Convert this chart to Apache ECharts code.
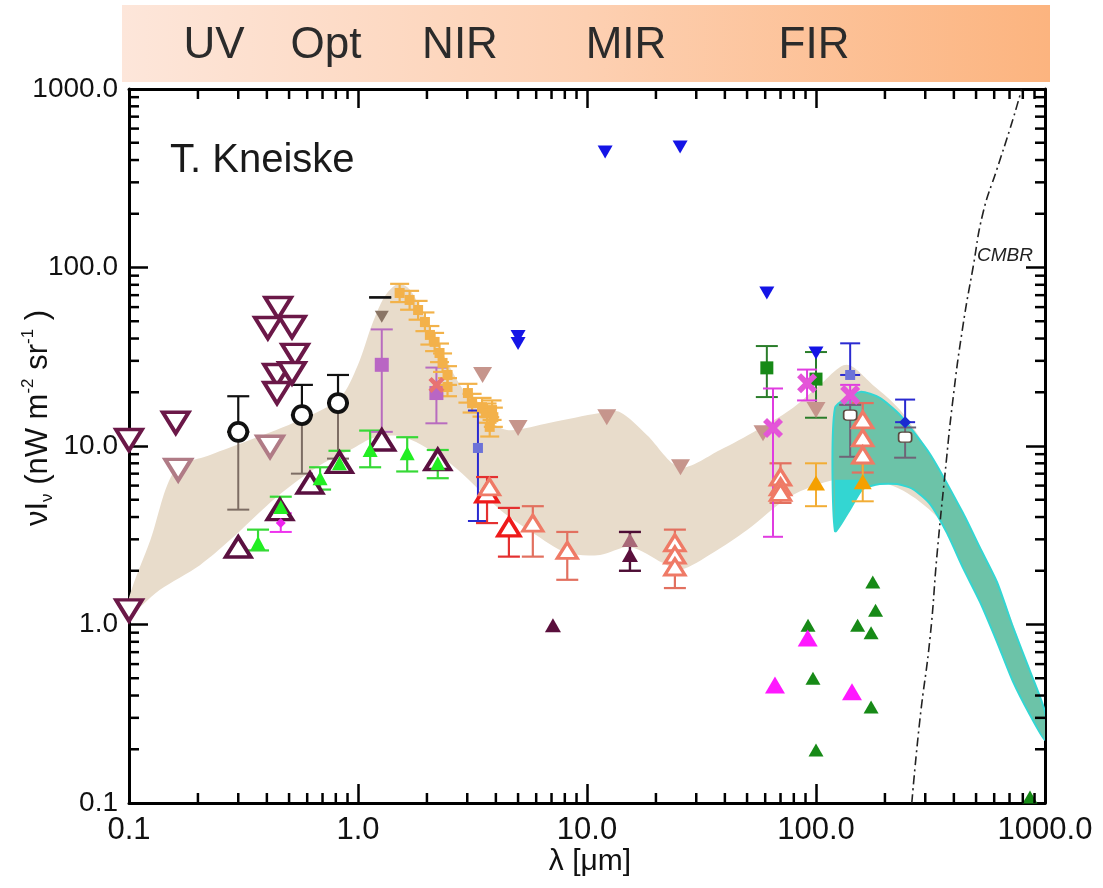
<!DOCTYPE html>
<html><head><meta charset="utf-8">
<script src="https://cdn.jsdelivr.net/npm/echarts/dist/echarts.min.js"></script>
<style>html,body{margin:0;padding:0;background:#fff}#c{width:1103px;height:888px}</style>
</head><body><div id="c"></div>
<script>
const FONT = "'Liberation Sans', Arial, Helvetica, sans-serif";
const bandLabels = ['UV', 'Opt', 'NIR', 'MIR', 'FIR'];
const xMinorTicks = [0.2,0.3,0.4,0.5,0.6,0.7,0.8,0.9,2,3,4,5,6,7,8,9,20,30,40,50,60,70,80,90,200,300,400,500,600,700,800,900];
const yMinorTicks = [0.2,0.3,0.4,0.5,0.6,0.7,0.8,0.9,2,3,4,5,6,7,8,9,20,30,40,50,60,70,80,90,200,300,400,500,600,700,800,900];

// EBL model range (beige)
const beigeUpper = [[0.1,1.41],[0.124,2.97],[0.159,7.35],[0.226,8.9],[0.337,10.8],[0.558,14],[0.834,18.6],[1.0,28.5],[1.15,47.6],[1.31,69],[1.5,81],[1.69,74.8],[1.96,52],[2.28,35.4],[2.79,22],[3.51,14.9],[4.47,12.3],[6.89,13.5],[11.4,15.3],[13.9,15.5],[18.3,11.5],[25.5,7.6],[38.1,9.5],[55.3,12.3],[76.9,15.9],[104,22],[136,28.5],[177,22],[233,15.9],[315,9.0],[439,4.2],[636,1.56],[1000,0.30]];
const beigeLower = [[0.1,1.13],[0.136,1.56],[0.204,2.15],[0.276,2.97],[0.443,5.2],[0.682,7.8],[0.923,9.5],[1.19,11.2],[1.6,11.2],[2.52,8.0],[4.17,4.4],[5.81,3.26],[8.18,2.52],[11.4,2.45],[15.4,2.72],[21.5,2.21],[25.5,2.02],[35.5,2.52],[50,3.38],[76.9,5.2],[121,6.46],[177,6.46],[250,5.46],[348,3.85],[520,1.89],[1000,0.284]];
// FIR band (teal)
const tealUpper = [[121,16.3],[156,20.1],[190,18.6],[233,14.9],[315,9.0],[439,4.2],[520,2.69],[617,1.73],[724,0.97],[860,0.548],[1000,0.324]];
const tealLower = [[121,3.34],[141,4.43],[160,5.74],[190,6.12],[226,6.12],[265,5.74],[315,4.73],[373,3.26],[439,2.07],[520,1.34],[617,0.80],[724,0.48],[860,0.311],[1000,0.225]];
const cyanWedge = [[121,6.46],[157,6.46],[160,5.74],[121,3.34]];
// CMBR
const cmbr = [[262,0.1],[284,0.29],[315,0.85],[338,2.5],[366,7.0],[396,18.1],[438,47],[485,100],[536,202],[617,356],[703,597],[778,925],[790,1000]];

// markers
const ulDarkPurple = [[0.1,10.8],[0.1,1.2],[0.16,13.5],[0.448,59.3],[0.404,45.8],[0.515,46.4],[0.531,32.4],[0.443,25],[0.515,25.6],[0.443,19.8]];
const ulMauveOpen = [[0.413,9.9],[0.164,7.35]];
const openCircles = [[0.30,12],[0.569,14.9],[0.818,17.4]];
const errBlack = [[0.30,12,19],[0.569,14.9,22],[0.818,17.4,25],[1.25,68,68]];
const errBrown = [[0.30,4.4,12],[0.569,7.0,14.9],[0.818,8.5,17.4]];
const llDarkPurpleOpen = [[0.30,2.72],[0.456,4.4],[0.617,6.2],[0.83,8.1],[1.27,10.8],[2.23,8.4]];
const greenTri = [[0.366,2.86],[0.46,4.55],[0.683,6.6],[0.83,8.0],[1.13,9.5],[1.64,9.1],[2.23,8.0]];
const errGreen = [[0.366,2.6,3.4],[0.46,3.9,5.2],[0.683,5.7,7.6],[0.83,7.5,9.4],[1.13,7.6,12.2],[1.64,7.2,11.2],[2.23,6.6,9.5]];
const magentaSmall = [[0.46,3.7]];
const errMagentaSmall = [[0.46,3.3,4.2]];
const greyDown = [[1.27,52.9]];
const violetSq = [[1.27,28.5],[2.2,19.8]];
const errViolet = [[1.27,12,45],[2.2,13.4,27.5]];
const salmonX = [[2.2,22]];
const orangeSq = [[1.52,72],[1.68,65.8],[1.83,57.8],[1.96,49.5],[2.06,41.9],[2.16,38.3],[2.27,33.2],[2.34,29.2],[2.46,25],[2.46,21.4],[3.02,19.8],[3.15,17.4],[3.48,16.5],[3.66,15.3],[3.85,15.9],[3.9,14.5],[3.76,12.8]];
const errOrange = [[1.52,64,81],[1.68,58,74],[1.83,51,65],[1.96,44,56],[2.06,37,47],[2.16,34,43],[2.27,29.5,37.5],[2.34,26,33],[2.46,22,28],[2.46,19,24],[3.02,17.5,22.3],[3.15,15.4,19.6],[3.48,14.6,18.6],[3.66,13.5,17.3],[3.85,14,18],[3.9,12.8,16.4],[3.76,11.3,14.5]];
const blueSq = [[3.34,9.75],[141,25]];
const errBlue = [[3.34,3.8,15.8],[141,25,37.6],[245,13.6,18.2]];
const redOpenTri = [[3.66,5.46],[4.56,3.52]];
const errRed = [[3.66,3.7,6.7],[4.56,2.4,4.5]];
const salmonOpenTri = [[3.75,5.9],[5.8,3.7],[8.2,2.6],[24.2,2.87],[24.2,2.45],[24.2,2.1],[70,6.7],[70,5.9],[70,5.5],[160,14],[160,11.1],[160,8.9]];
const errSalmon = [[5.8,2.4,4.6],[8.2,1.78,3.3],[24.2,1.6,3.4],[70,4.8,8.0],[160,7.1,17.4]];
const blueDown = [[5.0,37.5],[5.0,41],[12,443],[25.5,473],[61,72],[100,33.2]];
const mauveDown = [[3.5,25],[5.0,12.6],[12.2,14.5],[25.6,7.6],[58.7,11.8],[100,15.9]];
const darkPurpleTri = [[7.1,0.99],[15.4,2.45]];
const errDarkPurple = [[15.4,2.0,3.3]];
const mauveUpTri = [[15.4,2.97]];
const greenSq = [[61,27.4],[100,23.7]];
const errGreenDark = [[61,18.8,36.3],[100,14.4,33.6]];
const magentaX = [[64.9,12.6],[91.4,22.5],[141,19.3]];
const errMagenta = [[64.9,3.1,21],[91.4,18,26.8],[141,17,22]];
const beigeSq = [[141,14.9],[245,11.2]];
const errGrey = [[141,8.7,17],[245,8.6,12.7]];
const blueDiamond = [[245,13.6]];
const orangeTri = [[100,6.2],[160,6.3]];
const errOrangeTri = [[100,4.6,8.0],[160,4.9,8.0]];
const darkGreenTri = [[177,1.73],[182,1.2],[152,0.99],[174,0.9],[92.3,0.99],[97,0.5],[174,0.345],[100,0.198],[860,0.108]];
const magentaTri = [[66.2,0.458],[92,0.84],[143.6,0.42]];

const chart = echarts.init(document.getElementById('c'));

function polySeries(pts, fill, z, stroke, lw, smooth) {
  return {
    type: 'custom', z: z, silent: true, clip: true, data: [[1, 1]],
    renderItem: function (params, api) {
      const points = pts.map(p => api.coord(p));
      return {type: 'polygon', shape: {points: points, smooth: smooth || 0},
        style: {fill: fill, stroke: stroke || null, lineWidth: lw || 0}};
    }
  };
}
function bandSeries(upper, lower, fill, z, stroke, lw, smooth) {
  return polySeries(upper.concat(lower.slice().reverse()), fill, z, stroke, lw, smooth);
}
function errSeries(data, color, capW, lw, z) {
  return {
    type: 'custom', z: z || 4, silent: true, data: data, encode: {x: 0, y: [1, 2]},
    renderItem: function (params, api) {
      const x = api.value(0), lo = api.value(1), hi = api.value(2);
      const a = api.coord([x, lo]), b = api.coord([x, hi]);
      const h = capW / 2;
      const st = {stroke: color, lineWidth: lw || 2, fill: null};
      return {type: 'group', children: [
        {type: 'line', shape: {x1: a[0], y1: a[1], x2: b[0], y2: b[1]}, style: st},
        {type: 'line', shape: {x1: a[0] - h, y1: a[1], x2: a[0] + h, y2: a[1]}, style: st},
        {type: 'line', shape: {x1: b[0] - h, y1: b[1], x2: b[0] + h, y2: b[1]}, style: st}
      ]};
    }
  };
}
function sc(data, symbol, size, color, extra) {
  return Object.assign({type: 'scatter', data: data, symbol: symbol, symbolSize: size,
    itemStyle: {color: color, opacity: 1}, z: 6, silent: true, clip: false}, extra || {});
}
function openSc(data, symbol, size, color, bw, extra) {
  return Object.assign({type: 'scatter', data: data, symbol: symbol, symbolSize: size,
    itemStyle: {color: '#ffffff', borderColor: color, borderWidth: bw, opacity: 1}, z: 6, silent: true, clip: false}, extra || {});
}
const XPATH = 'path://M0,2 L2,0 L5,3 L8,0 L10,2 L7,5 L10,8 L8,10 L5,7 L2,10 L0,8 L3,5 Z';

function minorX(params, api) {
  const cs = params.coordSys;
  const px = api.coord([api.value(0), 1])[0];
  const yb = cs.y + cs.height, yt = cs.y;
  const st = {stroke: '#000', lineWidth: 2.5};
  return {type: 'group', children: [
    {type: 'line', shape: {x1: px, y1: yb, x2: px, y2: yb - 10}, style: st},
    {type: 'line', shape: {x1: px, y1: yt, x2: px, y2: yt + 10}, style: st}
  ]};
}
function minorY(params, api) {
  const cs = params.coordSys;
  const py = api.coord([1, api.value(1)])[1];
  const xl = cs.x, xr = cs.x + cs.width;
  const st = {stroke: '#000', lineWidth: 2.5};
  return {type: 'group', children: [
    {type: 'line', shape: {x1: xl, y1: py, x2: xl + 10, y2: py}, style: st},
    {type: 'line', shape: {x1: xr, y1: py, x2: xr - 10, y2: py}, style: st}
  ]};
}

const axisCommon = {
  type: 'log', logBase: 10, min: 0.1, max: 1000,
  axisLine: {show: true, lineStyle: {color: '#000', width: 3}},
  axisTick: {show: true, inside: true, length: 19, lineStyle: {color: '#000', width: 2.5}},
  splitLine: {show: false}, minorTick: {show: false}
};

const bandX = [214, 326, 460, 626, 814];

const option = {
  animation: false,
  backgroundColor: '#ffffff',
  grid: {left: 129, right: 58, top: 89, bottom: 85, containLabel: false},
  xAxis: [
    Object.assign({}, axisCommon, {position: 'bottom',
      axisLabel: {show: true, fontFamily: FONT, fontSize: 31, color: '#111', margin: 12,
        formatter: v => Number(v).toFixed(1)}}),
    Object.assign({}, axisCommon, {position: 'top', axisLabel: {show: false}})
  ],
  yAxis: [
    Object.assign({}, axisCommon, {position: 'left',
      axisLabel: {show: true, fontFamily: FONT, fontSize: 28, color: '#111', margin: 11,
        formatter: v => Number(v).toFixed(1)}}),
    Object.assign({}, axisCommon, {position: 'right', axisLabel: {show: false}})
  ],
  graphic: [
    {type: 'rect', z: 0, shape: {x: 122, y: 5, width: 928, height: 77},
      style: {fill: new echarts.graphic.LinearGradient(0, 0, 1, 0, [
        {offset: 0, color: '#fde6da'}, {offset: 0.5, color: '#fdd0b2'}, {offset: 1, color: '#fcb47f'}])}}
  ].concat(bandLabels.map((t, i) => ({
      type: 'text', x: bandX[i], y: 46, z: 1,
      style: {text: t, fill: '#2b2b2b', fontFamily: FONT, fontSize: 44,
        align: 'center', verticalAlign: 'middle', textAlign: 'center', textVerticalAlign: 'middle'}
    }))).concat([
    {type: 'text', x: 170, y: 161, z: 20,
      style: {text: 'T. Kneiske', fill: '#1a1a1a', fontFamily: FONT, fontSize: 40,
        align: 'left', verticalAlign: 'middle', textAlign: 'left', textVerticalAlign: 'middle'}},
    {type: 'text', x: 977, y: 256, z: 20,
      style: {text: 'CMBR', fill: '#222', fontFamily: FONT, fontSize: 19, fontStyle: 'italic',
        align: 'left', verticalAlign: 'middle', textAlign: 'left', textVerticalAlign: 'middle'}},
    {type: 'text', x: 590, y: 862, z: 20,
      style: {text: 'λ [μm]', fill: '#111', fontFamily: FONT, fontSize: 30,
        align: 'center', verticalAlign: 'middle', textAlign: 'center', textVerticalAlign: 'middle'}},
    {type: 'text', x: 38, y: 418, rotation: Math.PI / 2, z: 20,
      style: {text: '{a|νI}{s|ν}{a| (nW m}{p|-2}{a| sr}{p|-1}{a| )}',
        align: 'center', verticalAlign: 'middle', textAlign: 'center', textVerticalAlign: 'middle',
        rich: {
          a: {fontFamily: FONT, fontSize: 31, fill: '#111', color: '#111', lineHeight: 44, verticalAlign: 'middle'},
          s: {fontFamily: FONT, fontSize: 17, fill: '#111', color: '#111', lineHeight: 44, verticalAlign: 'bottom', padding: [0, 0, 4, 0]},
          p: {fontFamily: FONT, fontSize: 17, fill: '#111', color: '#111', lineHeight: 44, verticalAlign: 'top', padding: [4, 0, 0, 0]}
        }}}
  ]),
  series: [
    bandSeries(beigeUpper, beigeLower, '#e8dccb', 1, null, 0, 0.3),
    bandSeries(tealUpper, tealLower, '#6cc3a8', 2, '#33d6d2', 2, 0.2),
    polySeries(cyanWedge, '#33d6d2', 2.5, null, 0, 0),
    {type: 'line', data: cmbr, z: 3, silent: true, symbol: 'none', smooth: true,
      lineStyle: {color: '#222', width: 1.6, type: [9, 4, 2, 4]}},
    {type: 'custom', data: xMinorTicks.map(v => [v, 1]), renderItem: minorX, z: 10, silent: true, clip: false},
    {type: 'custom', data: yMinorTicks.map(v => [1, v]), renderItem: minorY, z: 10, silent: true, clip: false},

    errSeries(errBrown, '#7d6d64', 22, 2),
    errSeries(errBlack, '#111', 22, 2.2),
    errSeries(errGreen, '#36d936', 22, 2.2),
    errSeries(errMagentaSmall, '#ee33ee', 22, 2),
    errSeries(errViolet, '#b86cbf', 22, 2),
    errSeries(errOrange, '#f2b24a', 19, 2.2),
    errSeries(errBlue, '#2a2ad0', 20, 2),
    errSeries(errRed, '#e43030', 22, 2.2),
    errSeries(errSalmon, '#e2705f', 22, 2.2),
    errSeries(errDarkPurple, '#4d0d35', 22, 2.4),
    errSeries(errGreenDark, '#2a7d2a', 22, 2),
    errSeries(errMagenta, '#e03ce0', 20, 2),
    errSeries(errGrey, '#6f6477', 22, 2),
    errSeries(errOrangeTri, '#f2ad35', 22, 2),

    openSc(ulDarkPurple, 'triangle', [26, 21], '#6b1848', 3.8, {symbolRotate: 180}),
    openSc(ulMauveOpen, 'triangle', [26, 21], '#b07b86', 3.8, {symbolRotate: 180}),
    openSc(openCircles, 'circle', 18, '#111', 3.8),
    openSc(llDarkPurpleOpen, 'triangle', [25, 20], '#5a1040', 3.8),
    sc(greenTri, 'triangle', [15, 14], '#22ee22'),
    sc(magentaSmall, 'diamond', 10, '#ee22ee'),
    sc(greyDown, 'triangle', [14, 12], '#8a7565', {symbolRotate: 180}),
    sc(violetSq, 'rect', 14, '#b966c4'),
    sc(orangeSq, 'rect', 10, '#f3b14a'),
    sc(salmonX, XPATH, 16, '#e87272'),
    sc(blueSq, 'rect', 10, '#6c72d8'),
    openSc(redOpenTri, 'triangle', [22, 18], '#ee1a1a', 3.5),
    openSc(salmonOpenTri, 'triangle', [20, 16], '#ef7a66', 3.2),
    sc(blueDown, 'triangle', [15, 13], '#1414e6', {symbolRotate: 180}),
    sc(mauveDown, 'triangle', [19, 16], '#c6958c', {symbolRotate: 180}),
    sc(darkPurpleTri, 'triangle', [16, 14], '#5a0f3c'),
    sc(mauveUpTri, 'triangle', [16, 14], '#a86878'),
    sc(greenSq, 'rect', 13, '#178a17'),
    sc(magentaX, XPATH, 20, '#e455d8'),
    openSc(beigeSq, 'roundRect', [13, 10], '#5a4a40', 1.5),
    sc(blueDiamond, 'diamond', 12, '#1a2ad0'),
    sc(orangeTri, 'triangle', [18, 15], '#f5a000'),
    sc(darkGreenTri, 'triangle', [15, 13], '#178a17'),
    sc(magentaTri, 'triangle', [20, 17], '#ff18ff')
  ]
};
chart.setOption(option);
</script></body></html>
